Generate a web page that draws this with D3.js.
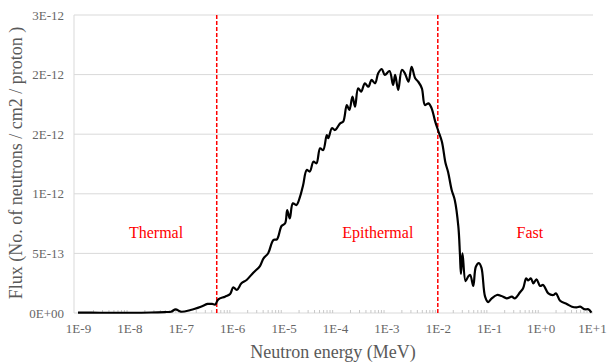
<!DOCTYPE html>
<html>
<head>
<meta charset="utf-8">
<script src="https://cdn.jsdelivr.net/npm/d3@7"></script>
<style>
  body { margin: 0; background: #fff; }
  svg text { font-family: "Liberation Serif", "Times New Roman", serif; }
</style>
</head>
<body>
<div id="chart"></div>
<script>
// energy as log10(MeV), flux in units of 1E-12 neutrons / cm2 / proton
const logE = [-9.00,-8.57,-8.09,-7.58,-7.31,-7.19,-7.10,-7.00,-6.81,-6.61,-6.48,-6.39,-6.33,-6.27,-6.14,-6.04,-5.98,-5.91,-5.82,-5.72,
  -5.59,-5.46,-5.39,-5.30,-5.20,-5.13,-5.04,-4.97,-4.93,-4.88,-4.82,-4.75,-4.68,-4.62,-4.55,-4.49,-4.42,-4.36,-4.29,-4.23,
  -4.16,-4.13,-4.06,-4.00,-3.90,-3.84,-3.77,-3.72,-3.66,-3.61,-3.55,-3.49,-3.42,-3.35,-3.29,-3.22,-3.16,-3.09,-3.03,-2.94,
  -2.87,-2.83,-2.77,-2.70,-2.64,-2.57,-2.51,-2.44,-2.38,-2.31,-2.25,-2.18,-2.12,-2.05,-1.99,-1.92,-1.85,-1.80,-1.73,-1.67,
  -1.60,-1.57,-1.55,-1.52,-1.46,-1.41,-1.37,-1.31,-1.26,-1.20,-1.15,-1.08,-1.02,-0.95,-0.85,-0.76,-0.66,-0.56,-0.50,-0.40,
  -0.34,-0.28,-0.24,-0.19,-0.14,-0.08,-0.01,0.05,0.15,0.25,0.30,0.38,0.51,0.61,0.70,0.77,0.86,0.93,0.99];
const flux = [0.003,0.002,0.002,0.004,0.008,0.011,0.031,0.011,0.025,0.053,0.076,0.076,0.071,0.115,0.137,0.159,0.216,0.193,0.249,0.277,
  0.338,0.394,0.459,0.501,0.612,0.618,0.730,0.753,0.864,0.794,0.920,0.906,0.976,1.074,1.200,1.187,1.269,1.256,1.382,1.367,
  1.493,1.466,1.550,1.535,1.591,1.605,1.745,1.703,1.815,1.731,1.885,1.857,1.927,1.898,1.955,1.927,2.011,2.047,1.997,2.030,
  1.913,1.997,1.871,2.039,2.011,1.940,2.066,1.969,1.940,1.885,1.745,1.759,1.717,1.605,1.527,1.437,1.258,1.183,1.032,0.948,
  0.724,0.501,0.327,0.501,0.268,0.305,0.319,0.227,0.388,0.419,0.378,0.137,0.092,0.123,0.151,0.143,0.123,0.137,0.123,0.174,
  0.207,0.291,0.273,0.291,0.249,0.283,0.227,0.235,0.165,0.151,0.165,0.103,0.076,0.053,0.048,0.053,0.031,0.031,0.003];

const xTicks = [1e-9,1e-8,1e-7,1e-6,1e-5,1e-4,1e-3,1e-2,1e-1,1,10];
const xTickLabels = ["1E-9","1E-8","1E-7","1E-6","1E-5","1E-4","1E-3","1E-2","1E-1","1E+0","1E+1"];
const yTicks = [0,0.5e-12,1e-12,1.5e-12,2e-12,2.5e-12];
const yTickLabels = ["0E+00","5E-13","1E-12","2E-12","2E-12","3E-12"];
const cutoffs = [5e-7, 1e-2];
const regions = [
  {name: "Thermal", e: 3.3e-8},
  {name: "Epithermal", e: 6.8e-4},
  {name: "Fast", e: 0.62}
];

const width = 608, height = 362;
const plot = {left: 74, right: 593, top: 15, bottom: 313};

const svg = d3.select("#chart").append("svg")
  .attr("width", width)
  .attr("height", height);

const x = d3.scaleLog().domain([1e-9, 10]).range([78, 592]);
const y = d3.scaleLinear().domain([0, 2.5e-12]).range([plot.bottom, plot.top]);

// gridlines
svg.append("g")
  .selectAll("line")
  .data(yTicks)
  .join("line")
    .attr("x1", plot.left).attr("x2", plot.right)
    .attr("y1", d => y(d)).attr("y2", d => y(d))
    .attr("stroke", "#d9d9d9")
    .attr("stroke-width", 1);

// left axis line
svg.append("line")
  .attr("x1", plot.left).attr("x2", plot.left)
  .attr("y1", plot.top).attr("y2", plot.bottom)
  .attr("stroke", "#d9d9d9");

// minor ticks on the energy axis
const minor = [];
for (let p = -9; p < 1; p++) {
  for (let k = 2; k <= 9; k++) minor.push(k * Math.pow(10, p));
}
svg.append("g")
  .selectAll("line")
  .data(minor)
  .join("line")
    .attr("x1", d => x(d)).attr("x2", d => x(d))
    .attr("y1", plot.bottom - 3).attr("y2", plot.bottom)
    .attr("stroke", "#c8c8c8");

// x axis labels
const xAxis = d3.axisBottom(x)
  .tickValues(xTicks)
  .tickFormat((d, i) => xTickLabels[i])
  .tickSize(0)
  .tickPadding(11);
const gx = svg.append("g")
  .attr("transform", "translate(0," + plot.bottom + ")")
  .call(xAxis);
gx.select(".domain").remove();
gx.selectAll("text")
  .attr("font-size", 13)
  .attr("fill", "#666");

// y axis labels
const yAxis = d3.axisLeft(y)
  .tickValues(yTicks)
  .tickFormat((d, i) => yTickLabels[i])
  .tickSize(0)
  .tickPadding(10);
const gy = svg.append("g")
  .attr("transform", "translate(" + plot.left + ",0)")
  .call(yAxis);
gy.select(".domain").remove();
gy.selectAll("text")
  .attr("font-size", 13)
  .attr("fill", "#666");

// cutoff lines
svg.append("g")
  .selectAll("line")
  .data(cutoffs)
  .join("line")
    .attr("x1", d => x(d)).attr("x2", d => x(d))
    .attr("y1", plot.top).attr("y2", plot.bottom)
    .attr("stroke", "#ff0000")
    .attr("stroke-width", 1.5)
    .attr("stroke-dasharray", "4,2");

// flux curve
const pts = logE.map((e, i) => [Math.pow(10, e), flux[i] * 1e-12]);
svg.append("path")
  .datum(pts)
  .attr("fill", "none")
  .attr("stroke", "#000")
  .attr("stroke-width", 2.2)
  .attr("stroke-linejoin", "round")
  .attr("d", d3.line()
    .x(d => x(d[0]))
    .y(d => y(d[1]))
    .curve(d3.curveCatmullRom.alpha(0.5)));

// region labels
svg.append("g")
  .selectAll("text")
  .data(regions)
  .join("text")
    .attr("x", d => x(d.e))
    .attr("y", 238)
    .attr("text-anchor", "middle")
    .attr("font-size", 16)
    .attr("fill", "#ff0000")
    .text(d => d.name);

// axis titles
svg.append("text")
  .attr("x", 333)
  .attr("y", 358)
  .attr("text-anchor", "middle")
  .attr("font-size", 18)
  .attr("fill", "#595959")
  .text("Neutron energy (MeV)");

svg.append("text")
  .attr("transform", "translate(22,163) rotate(-90)")
  .attr("text-anchor", "middle")
  .attr("font-size", 18)
  .attr("fill", "#595959")
  .text("Flux (No. of neutrons / cm2 / proton )");
</script>
</body>
</html>
